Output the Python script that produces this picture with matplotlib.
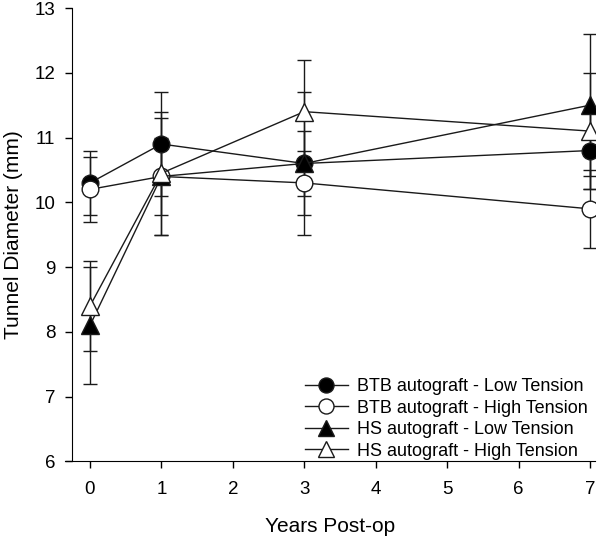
import matplotlib
matplotlib.use('Agg')
import matplotlib.pyplot as plt
import numpy as np

plt.rcParams['font.family'] = ['Liberation Sans', 'DejaVu Sans']

years = [0, 1, 3, 7]
labels = ['BTB autograft - Low Tension', 'BTB autograft - High Tension',
          'HS autograft - Low Tension', 'HS autograft - High Tension']
btb_low = [10.3, 10.9, 10.6, 10.8]
btb_low_err = [0.5, 0.8, 0.5, 0.6]
btb_high = [10.2, 10.4, 10.3, 9.9]
btb_high_err = [0.5, 0.6, 0.5, 0.6]
hs_low = [8.1, 10.4, 10.6, 11.5]
hs_low_err = [0.9, 0.9, 1.1, 1.1]
hs_high = [8.4, 10.45, 11.4, 11.1]
hs_high_err = [0.7, 0.95, 0.8, 0.9]

series = [
    (btb_low, btb_low_err, 'o', 'black'),
    (btb_high, btb_high_err, 'o', 'white'),
    (hs_low, hs_low_err, '^', 'black'),
    (hs_high, hs_high_err, '^', 'white'),
]

fig = plt.figure(figsize=(6, 5.37), dpi=100)
ax = fig.add_axes([0.1083, 0.1406, 0.8833, 0.8445])

for (vals, errs, mk, fc), lab in zip(series, labels):
    ax.errorbar(years, vals, yerr=errs, color='#1a1a1a', ecolor='#1a1a1a',
                elinewidth=1, capsize=5, capthick=1, linewidth=1,
                marker=mk, markersize=12 if mk == 'o' else 12.5,
                markerfacecolor=fc, markeredgecolor='#1a1a1a',
                markeredgewidth=1, label=lab)

ax.set_xlim(-0.35, 7.07)
ax.set_ylim(6, 13)
ax.set_xticks(range(0, 8))
ax.set_yticks(range(6, 14))
ax.spines['top'].set_visible(False)
ax.spines['right'].set_visible(False)
ax.spines['left'].set_position(('data', -0.25))
ax.tick_params(axis='both', direction='out', length=5, width=1, labelsize=13.5)
ax.tick_params(axis='x', pad=9)
ax.tick_params(axis='y', pad=7)

ax.set_xlabel('Years Post-op', fontsize=15, labelpad=14)
ax.set_ylabel('Tunnel Diameter (mm)', fontsize=15, labelpad=8)

handles, labs = ax.get_legend_handles_labels()
handles = [h[0] for h in handles]
ax.legend(handles, labs, loc='lower right', frameon=False, fontsize=13,
          handlelength=2.4, handletextpad=0.5, labelspacing=0.25,
          borderpad=0.1, borderaxespad=0.0, markerscale=0.9,
          bbox_to_anchor=(0.99, 0.0))

fig.savefig('out.png', dpi=100)
